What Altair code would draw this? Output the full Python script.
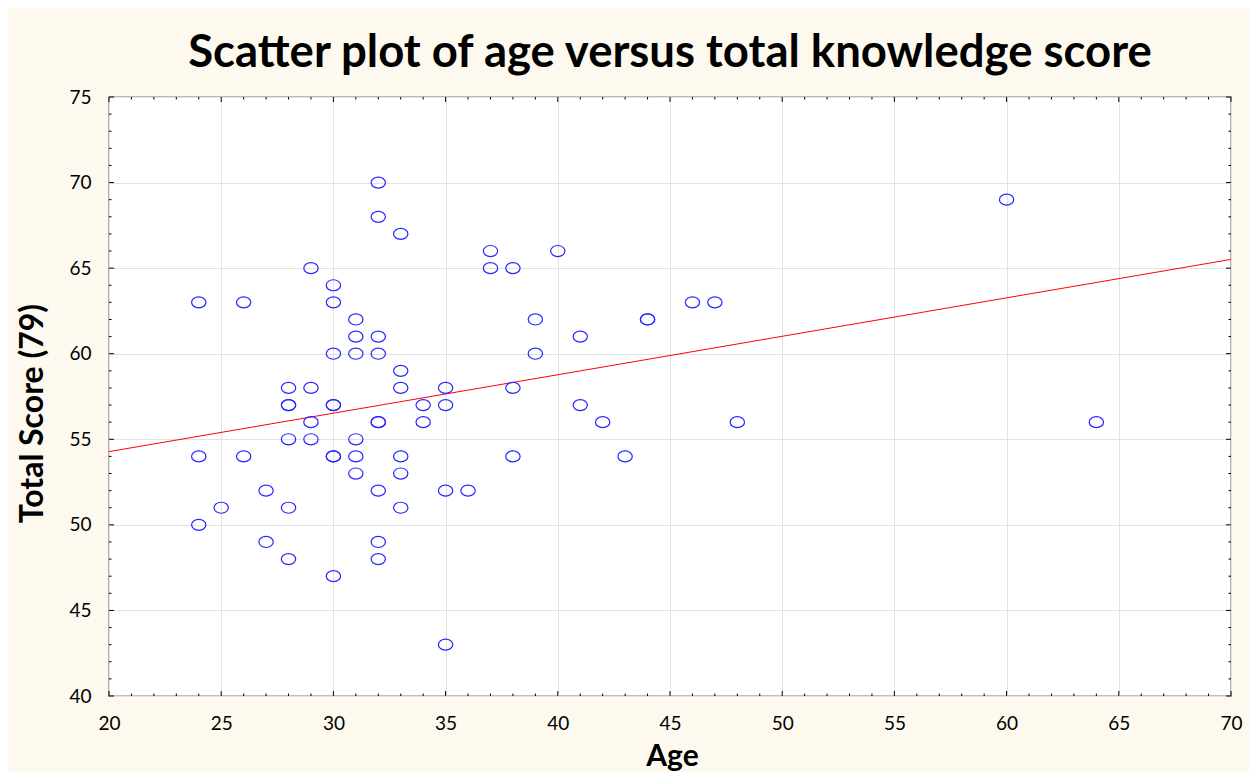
import altair as alt
import pandas as pd

# ---- data (age, total score) ----
ages = [24, 24, 24,
        25,
        26, 26,
        27, 27,
        28, 28, 28, 28, 28, 28,
        29, 29, 29, 29,
        30, 30, 30, 30, 30, 30, 30, 30,
        31, 31, 31, 31, 31, 31,
        32, 32, 32, 32, 32, 32, 32, 32, 32,
        33, 33, 33, 33, 33, 33,
        34, 34,
        35, 35, 35, 35,
        36,
        37, 37,
        38, 38, 38,
        39, 39,
        40,
        41, 41,
        42,
        43,
        44, 44,
        46,
        47,
        48,
        60,
        64]
scores = [63, 54, 50,
          51,
          63, 54,
          52, 49,
          58, 57, 57, 55, 51, 48,
          65, 58, 56, 55,
          64, 63, 60, 57, 57, 54, 54, 47,
          62, 61, 60, 55, 54, 53,
          70, 68, 61, 60, 56, 56, 52, 49, 48,
          67, 59, 58, 54, 53, 51,
          57, 56,
          58, 57, 52, 43,
          52,
          66, 65,
          65, 58, 54,
          62, 60,
          66,
          61, 57,
          56,
          54,
          62, 62,
          63,
          63,
          56,
          69,
          56]

x_major = [20, 25, 30, 35, 40, 45, 50, 55, 60, 65, 70]
y_major = [40, 45, 50, 55, 60, 65, 70, 75]
x_minor = [v for v in range(20, 71) if v % 5 != 0]
y_minor = [v for v in range(40, 76) if v % 5 != 0]

title_text = "Scatter plot of age versus total knowledge score"
x_title = "Age"
y_title = "Total Score (79)"

PW, PH = 1122, 599
FONT = "Lato"

df = pd.DataFrame({"age": ages, "score": scores})
xmaj = pd.DataFrame({"age": x_major})
xmin = pd.DataFrame({"age": x_minor})
ymaj = pd.DataFrame({"score": y_major})
ymin = pd.DataFrame({"score": y_minor})

xscale = alt.Scale(domain=[20, 70], nice=False, zero=False)
yscale = alt.Scale(domain=[40, 75], nice=False, zero=False)

ELLIPSE = "M -1 0 A 1 0.77 0 1 1 1 0 A 1 0.77 0 1 1 -1 0 Z"

xaxis = alt.Axis(values=x_major, title=x_title, grid=True, ticks=False, domain=False,
                 labelFlush=False, labelPadding=18, labelFont=FONT, labelFontSize=19,
                 labelColor="black", titleFont=FONT, titleFontSize=30, titleFontWeight="bold",
                 titleColor="black", titleX=563, titleY=69, titleBaseline="alphabetic",
                 gridColor="#e2e2e2", gridWidth=1)
yaxis = alt.Axis(values=y_major, title=y_title, grid=True, ticks=False, domain=False,
                 labelFlush=False, labelPadding=18, labelFont=FONT, labelFontSize=19,
                 labelColor="black", titleFont=FONT, titleFontSize=32, titleFontWeight="bold",
                 titleColor="black", titleAngle=270, titleX=-67, titleY=316,
                 titleBaseline="alphabetic", gridColor="#e2e2e2", gridWidth=1)

X = alt.X("age:Q", scale=xscale, axis=xaxis)
Y = alt.Y("score:Q", scale=yscale, axis=yaxis)

points = alt.Chart(df).mark_point(
    shape=ELLIPSE, size=205, filled=False, color="#2424ff", strokeWidth=1.2, opacity=1
).encode(x=X, y=Y)

line = alt.Chart(df).transform_regression(
    "age", "score", extent=[20, 70]
).mark_line(color="#ff0000", strokeWidth=1, clip=True).encode(x=X, y=Y)

def xticks(data, length):
    bottom = alt.Chart(data).mark_rule(color="black", strokeWidth=1).encode(
        x=X, y=alt.value(PH), y2=alt.value(PH - length))
    top = alt.Chart(data).mark_rule(color="black", strokeWidth=1).encode(
        x=X, y=alt.value(0), y2=alt.value(length))
    return [bottom, top]

def yticks(data, length):
    left = alt.Chart(data).mark_rule(color="black", strokeWidth=1).encode(
        y=Y, x=alt.value(0), x2=alt.value(length))
    right = alt.Chart(data).mark_rule(color="black", strokeWidth=1).encode(
        y=Y, x=alt.value(PW), x2=alt.value(PW - length))
    return [left, right]

tick_layers = xticks(xmaj, 5) + xticks(xmin, 2.5) + yticks(ymaj, 5) + yticks(ymin, 2.5)

chart = alt.layer(*tick_layers, line, points).properties(
    width=PW, height=PH,
    title=alt.TitleParams(title_text, font=FONT, fontSize=45.5, fontWeight="bold",
                          color="black", anchor="middle", frame="group", offset=12),
    autosize=alt.AutoSizeParams(type="none"),
    padding={"left": 101, "top": 89, "right": 18, "bottom": 76},
    background="#fdf9ee",
).configure_view(fill="white", stroke="black", strokeWidth=1.2)

chart.save("out.html", embed_options={"renderer": "svg", "actions": False})
